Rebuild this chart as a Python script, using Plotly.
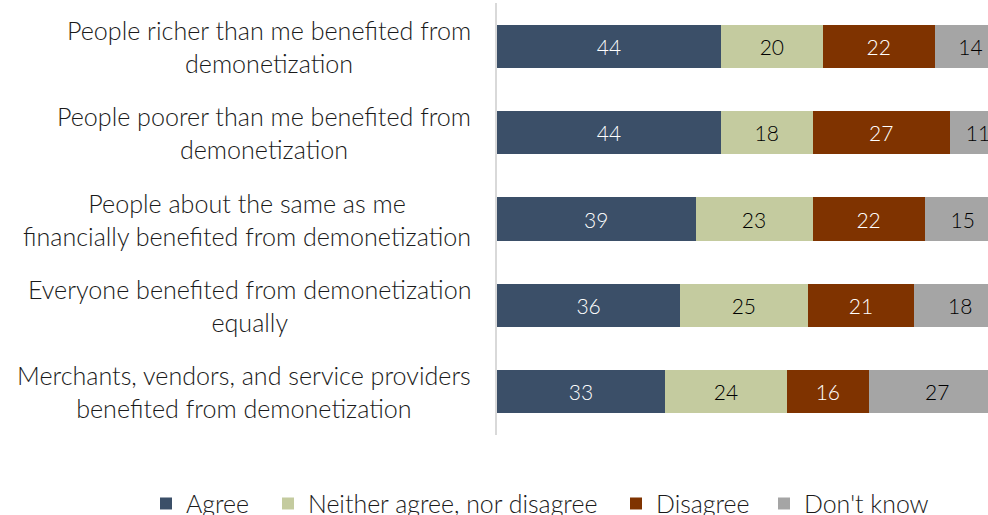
import plotly.graph_objects as go

# Survey statements (top to bottom) and the share of responses per answer
statements = [
    "People richer than me benefited from<br>demonetization",
    "People poorer than me benefited from<br>demonetization",
    "People about the same as me<br>financially benefited from demonetization",
    "Everyone benefited from demonetization<br>equally",
    "Merchants, vendors, and service providers<br>benefited from demonetization",
]
agree = [44, 44, 39, 36, 33]
neither = [20, 18, 23, 25, 24]
disagree = [22, 27, 22, 21, 16]
dont_know = [14, 11, 15, 18, 27]

series = [
    ("Agree", agree, "#3B4F68", "white"),
    ("Neither agree, nor disagree", neither, "#C4CB9F", "black"),
    ("Disagree", disagree, "#7F3300", "white"),
    ("Don't know", dont_know, "#A5A5A5", "black"),
]

FONT = "Lato"
PLOT_LEFT, PLOT_W = 497, 491
# left edge (px) of each legend entry along the bottom row
legend_px = [146, 268, 616, 764]
ypos = list(range(len(statements)))

fig = go.Figure()
legend_layout = {}
for k, (name, vals, color, tcolor) in enumerate(series):
    lname = "legend" if k == 0 else f"legend{k + 1}"
    fig.add_trace(go.Bar(
        y=ypos, x=vals, name=name, orientation="h",
        marker=dict(color=color, line=dict(width=0)),
        text=[str(v) for v in vals], textposition="inside",
        insidetextanchor="middle", constraintext="none",
        textfont=dict(family=FONT, size=21, color=tcolor, weight=300),
        hoverinfo="skip", legend=lname,
    ))
    legend_layout[lname] = dict(
        orientation="h", x=(legend_px[k] - PLOT_LEFT) / PLOT_W,
        xanchor="left", y=-0.106, yanchor="top",
        font=dict(family=FONT, size=24.9, color="#1a1a1a", weight=300),
        itemwidth=30, bgcolor="rgba(0,0,0,0)",
    )

# Centered two-line category labels to the left of the axis
for i, s in enumerate(statements):
    fig.add_annotation(
        x=0, xref="paper", y=i, yref="y", text=s, showarrow=False,
        xanchor="right", xshift=-24, align="center",
        font=dict(family=FONT, size=25.1, color="#1a1a1a", weight=300),
    )

fig.update_layout(
    width=988, height=515,
    margin=dict(l=PLOT_LEFT, r=0, t=3, b=80, autoexpand=False),
    barmode="stack", bargap=0.5,
    plot_bgcolor="white", paper_bgcolor="white",
    xaxis=dict(range=[0, 96.46], visible=False, fixedrange=True),
    yaxis=dict(range=[len(statements) - 0.5, -0.5], showticklabels=False,
               showgrid=False, zeroline=False, showline=True,
               linecolor="#D9D9D9", linewidth=2, ticks=""),
    showlegend=True,
    **legend_layout,
)

fig.write_html("out.html")
